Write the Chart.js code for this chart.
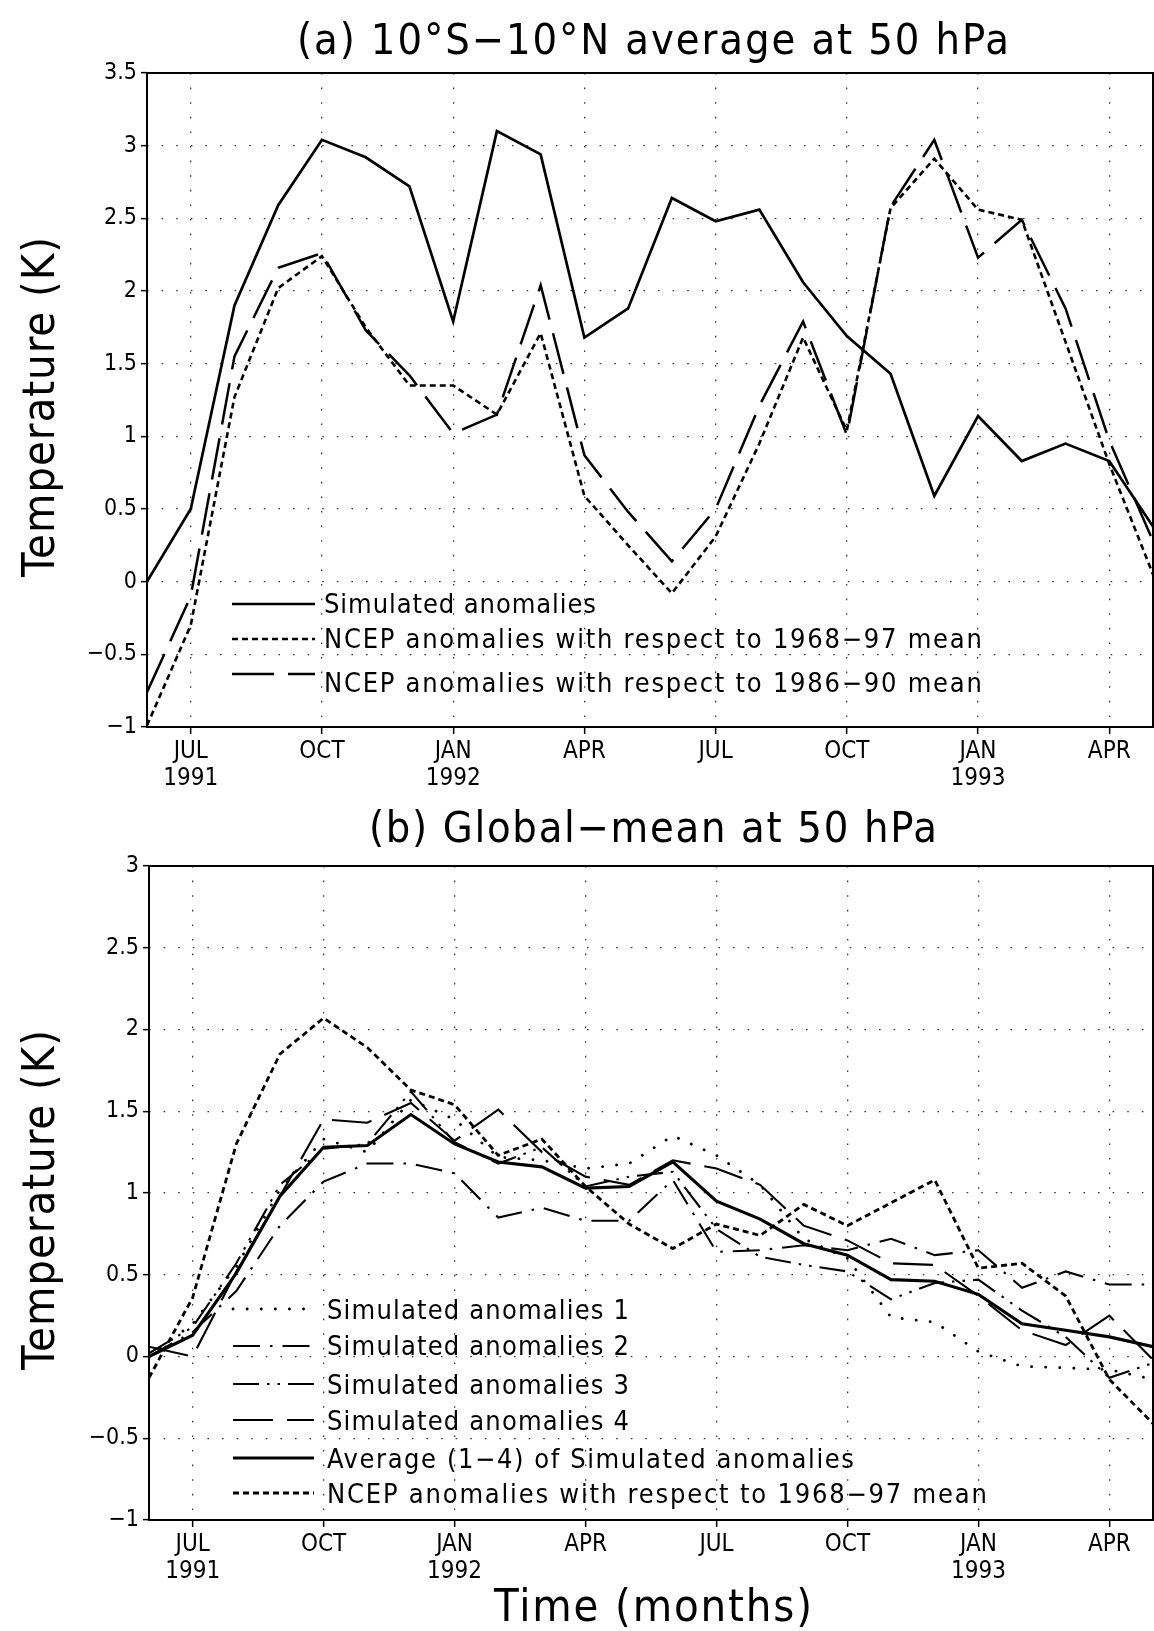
<!DOCTYPE html>
<html>
<head>
<meta charset="utf-8">
<script src="https://cdn.jsdelivr.net/npm/chart.js@4.4.1/dist/chart.umd.min.js"></script>
<style>
html,body{margin:0;padding:0;background:#fff;}
#wrap{position:relative;width:1154px;height:1631px;overflow:hidden;background:#fff;}
canvas{position:absolute;left:0;}
#ca{top:0;}
#cb{top:800px;}
</style>
</head>
<body>
<div id="wrap">
<canvas id="ca" width="1154" height="800"></canvas>
<canvas id="cb" width="1154" height="831"></canvas>
</div>
<script>
// ---------------- data ----------------
const months = ['JUN 1991','JUL 1991','AUG 1991','SEP 1991','OCT 1991','NOV 1991','DEC 1991',
  'JAN 1992','FEB 1992','MAR 1992','APR 1992','MAY 1992','JUN 1992','JUL 1992','AUG 1992','SEP 1992',
  'OCT 1992','NOV 1992','DEC 1992','JAN 1993','FEB 1993','MAR 1993','APR 1993','MAY 1993'];
const tickMonths = [1, 4, 7, 10, 13, 16, 19, 22];
const tickLabels = [['JUL','1991'],['OCT'],['JAN','1992'],['APR'],['JUL'],['OCT'],['JAN','1993'],['APR']];
const yTicksA = [-1, -0.5, 0, 0.5, 1, 1.5, 2, 2.5, 3, 3.5];
const yTicksB = [-1, -0.5, 0, 0.5, 1, 1.5, 2, 2.5, 3];

// (a) 10S-10N average at 50 hPa
const simA      = [0.00, 0.50, 1.90, 2.59, 3.04, 2.92, 2.72, 1.79, 3.10, 2.94, 1.68, 1.88, 2.64, 2.48, 2.56, 2.06, 1.69, 1.43, 0.59, 1.14, 0.83, 0.95, 0.83, 0.38];
const ncep6897A = [-0.99, -0.30, 1.27, 2.02, 2.24, 1.75, 1.35, 1.35, 1.15, 1.71, 0.59, 0.25, -0.08, 0.31, 0.95, 1.68, 1.04, 2.57, 2.91, 2.56, 2.49, 1.65, 0.81, 0.05];
const ncep8690A = [-0.76, -0.10, 1.55, 2.16, 2.26, 1.73, 1.42, 1.02, 1.15, 2.04, 0.87, 0.48, 0.14, 0.50, 1.21, 1.79, 1.01, 2.58, 3.04, 2.23, 2.49, 1.88, 0.97, 0.28];

// (b) Global-mean at 50 hPa
const sim1B  = [0.00, 0.20, 0.55, 1.02, 1.33, 1.25, 1.57, 1.45, 1.22, 1.20, 1.15, 1.18, 1.35, 1.23, 1.05, 0.72, 0.60, 0.24, 0.21, 0.03, -0.06, -0.07, -0.08, -0.14];
const sim2B  = [0.00, 0.15, 0.40, 0.80, 1.07, 1.18, 1.18, 1.12, 0.85, 0.91, 0.83, 0.83, 1.08, 0.64, 0.65, 0.68, 0.65, 0.72, 0.62, 0.65, 0.42, 0.52, 0.44, 0.44];
const sim3B  = [0.02, 0.18, 0.57, 1.05, 1.27, 1.30, 1.62, 1.31, 1.18, 1.28, 1.04, 1.10, 1.13, 0.78, 0.61, 0.56, 0.52, 0.35, 0.45, 0.47, 0.28, 0.12, -0.13, -0.04];
const sim4B  = [0.06, 0.00, 0.52, 0.98, 1.45, 1.43, 1.55, 1.32, 1.51, 1.25, 1.10, 1.05, 1.20, 1.15, 1.05, 0.80, 0.71, 0.57, 0.56, 0.37, 0.16, 0.07, 0.25, -0.02];
const avgB   = [0.00, 0.13, 0.51, 0.98, 1.28, 1.29, 1.48, 1.30, 1.19, 1.16, 1.03, 1.04, 1.19, 0.95, 0.84, 0.69, 0.62, 0.47, 0.46, 0.38, 0.20, 0.16, 0.12, 0.06];
const ncepB  = [-0.13, 0.36, 1.30, 1.85, 2.07, 1.89, 1.63, 1.54, 1.23, 1.33, 1.04, 0.81, 0.66, 0.81, 0.74, 0.93, 0.80, 0.94, 1.08, 0.54, 0.57, 0.37, -0.14, -0.41];

// ---------------- helpers ----------------
const FAM = "'DejaVu Sans Condensed', 'DejaVu Sans', sans-serif";
Chart.defaults.font.family = FAM;
Chart.defaults.color = '#000';

function pts(arr){ return arr.map((v, i) => ({x: i, y: v})); }
function fmt(v){ const r = Math.round(v * 10) / 10; return r < 0 ? '\u2212' + Math.abs(r) : String(r); }

function fitText(ctx, text, x, y, size, target, align){
  ctx.save();
  ctx.font = size + 'px ' + FAM;
  ctx.textBaseline = 'alphabetic';
  ctx.textAlign = 'left';
  ctx.fillStyle = '#000';
  let w = ctx.measureText(text).width;
  const n = Array.from(text).length;
  if (target && ('letterSpacing' in ctx) && n > 1) {
    const ls = (target - w) / (n - 1);
    ctx.letterSpacing = ls.toFixed(2) + 'px';
    w = ctx.measureText(text).width - ls;
  }
  let sx = x;
  if (align === 'center') sx = x - w / 2;
  ctx.fillText(text, sx, y);
  ctx.restore();
}

const framePlugin = {
  id: 'frame',
  afterDraw(chart){
    const {ctx, chartArea: a} = chart;
    ctx.save();
    ctx.strokeStyle = '#000';
    ctx.lineWidth = 2;
    ctx.setLineDash([]);
    ctx.strokeRect(a.left, a.top, a.right - a.left, a.bottom - a.top);
    ctx.restore();
  }
};

function textPlugin(cfg){
  return {
    id: 'texts',
    afterDraw(chart){
      const ctx = chart.ctx;
      // title
      fitText(ctx, cfg.title, cfg.titleX, cfg.titleY, 43, cfg.titleW, 'center');
      // y title
      ctx.save();
      ctx.translate(cfg.yTitleX, cfg.yTitleY);
      ctx.rotate(-Math.PI / 2);
      fitText(ctx, 'Temperature (K)', 0, 0, 45, 340, 'center');
      ctx.restore();
      if (cfg.xTitle) fitText(ctx, cfg.xTitle, cfg.xTitleX, cfg.xTitleY, 45, cfg.xTitleW, 'center');
      // legend
      const ds = chart.data.datasets;
      cfg.legend.forEach((row, i) => {
        const d = ds[i];
        ctx.save();
        ctx.strokeStyle = '#000';
        ctx.lineWidth = d.borderWidth;
        ctx.lineCap = d.borderCapStyle || 'butt';
        ctx.setLineDash(d.borderDash || []);
        ctx.lineDashOffset = 0;
        ctx.beginPath();
        ctx.moveTo(cfg.legX1, row.ly);
        ctx.lineTo(cfg.legX2, row.ly);
        ctx.stroke();
        ctx.restore();
        fitText(ctx, d.label, cfg.legTX, row.ty, 27, row.w, 'left');
      });
    }
  };
}

function scales(yTicks, yW, xH){
  const gridCommon = {color: '#3a3a3a', lineWidth: 1.3, tickColor: '#000', tickWidth: 1.5, tickBorderDash: []};
  return {
    x: {
      type: 'linear', min: 0, max: 23,
      afterBuildTicks: s => { s.ticks = tickMonths.map(v => ({value: v})); },
      afterFit: s => { s.height = xH; },
      ticks: {autoSkip: false, maxRotation: 0, minRotation: 0, padding: 4, color: '#000',
              font: {size: 24, family: FAM, lineHeight: 1.12},
              callback: (v, i) => tickLabels[i]},
      grid: Object.assign({tickLength: 7}, gridCommon),
      border: {display: false, dash: [1.6, 13]}
    },
    y: {
      type: 'linear', min: yTicks[0], max: yTicks[yTicks.length - 1],
      afterBuildTicks: s => { s.ticks = yTicks.map(v => ({value: v})); },
      afterFit: s => { s.width = yW; },
      ticks: {padding: 4, color: '#000', font: {size: 23, family: FAM}, callback: v => fmt(v)},
      grid: Object.assign({tickLength: 6}, gridCommon),
      border: {display: false, dash: [1.6, 13]}
    }
  };
}

const baseOpts = {
  responsive: false, animation: false, devicePixelRatio: 1,
  elements: {point: {radius: 0}, line: {tension: 0}},
  plugins: {legend: {display: false}, title: {display: false}, tooltip: {enabled: false}}
};

// ---------------- chart (a) ----------------
new Chart(document.getElementById('ca'), {
  type: 'line',
  data: {datasets: [
    {label: 'Simulated anomalies', data: pts(simA), borderColor: '#000', borderWidth: 2.7, borderDash: [], fill: false},
    {label: 'NCEP anomalies with respect to 1968\u221297 mean', data: pts(ncep6897A), borderColor: '#000', borderWidth: 2.6, borderDash: [6, 4], fill: false},
    {label: 'NCEP anomalies with respect to 1986\u221290 mean', data: pts(ncep8690A), borderColor: '#000', borderWidth: 2.5, borderDash: [42, 14], fill: false}
  ]},
  options: Object.assign({}, baseOpts, {
    layout: {padding: {top: 73, right: 1, left: 0, bottom: 0}},
    scales: scales(yTicksA, 147, 73)
  }),
  plugins: [framePlugin, textPlugin({
    title: '(a) 10\u00b0S\u221210\u00b0N average at 50 hPa', titleX: 653, titleY: 54, titleW: 712,
    yTitleX: 54, yTitleY: 407,
    legX1: 232, legX2: 315, legTX: 324,
    legend: [{ly: 604, ty: 613, w: 272}, {ly: 639, ty: 648, w: 658}, {ly: 674, ty: 692, w: 658}]
  })]
});

// ---------------- chart (b) ----------------
new Chart(document.getElementById('cb'), {
  type: 'line',
  data: {datasets: [
    {label: 'Simulated anomalies 1', data: pts(sim1B), borderColor: '#000', borderWidth: 2.8, borderDash: [0.1, 14], borderCapStyle: 'round', fill: false},
    {label: 'Simulated anomalies 2', data: pts(sim2B), borderColor: '#000', borderWidth: 2.1, borderDash: [27, 10, 2.5, 10], fill: false},
    {label: 'Simulated anomalies 3', data: pts(sim3B), borderColor: '#000', borderWidth: 2.1, borderDash: [26, 8, 2.5, 8, 2.5, 8], fill: false},
    {label: 'Simulated anomalies 4', data: pts(sim4B), borderColor: '#000', borderWidth: 2.1, borderDash: [40, 14], fill: false},
    {label: 'Average (1\u22124) of Simulated anomalies', data: pts(avgB), borderColor: '#000', borderWidth: 3.1, borderDash: [], fill: false},
    {label: 'NCEP anomalies with respect to 1968\u221297 mean', data: pts(ncepB), borderColor: '#000', borderWidth: 2.8, borderDash: [6, 4], fill: false}
  ]},
  options: Object.assign({}, baseOpts, {
    layout: {padding: {top: 66, right: 1, left: 0, bottom: 0}},
    scales: scales(yTicksB, 149, 111)
  }),
  plugins: [framePlugin, textPlugin({
    title: '(b) Global\u2212mean at 50 hPa', titleX: 653, titleY: 42, titleW: 568,
    yTitleX: 54, yTitleY: 400,
    xTitle: 'Time (months)', xTitleX: 653, xTitleY: 821, xTitleW: 318,
    legX1: 233, legX2: 314, legTX: 327,
    legend: [
      {ly: 509, ty: 519, w: 302},
      {ly: 546, ty: 555, w: 302},
      {ly: 584, ty: 594, w: 302},
      {ly: 620, ty: 630, w: 302},
      {ly: 658, ty: 668, w: 527},
      {ly: 693, ty: 703, w: 660}
    ]
  })]
});
</script>
</body>
</html>
